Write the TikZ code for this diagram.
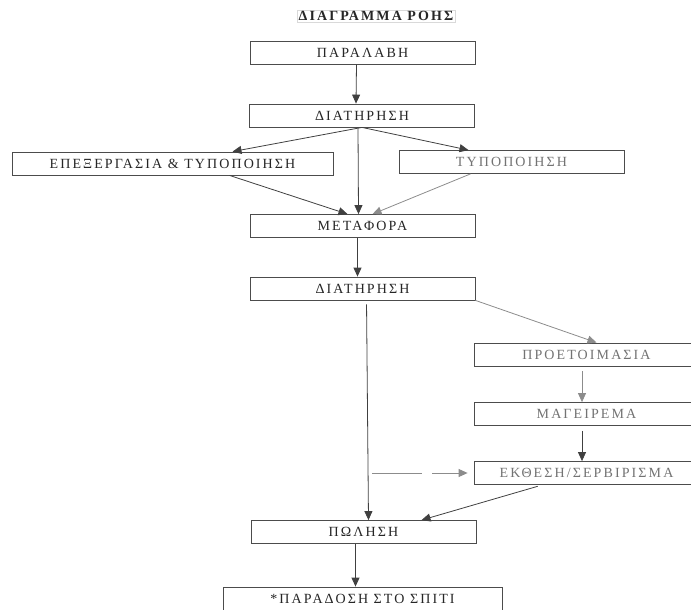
\documentclass[tikz,border=0pt]{standalone}
\usepackage{fontspec}
\setmainfont{Liberation Serif}[LetterSpace=15]
\usetikzlibrary{arrows.meta, positioning}

\begin{document}
\begin{tikzpicture}[x=1pt,y=-1pt,
    kouti/.style={rectangle,draw=black!70,line width=0.8pt,fill=white,minimum width=225pt,minimum height=23pt,inner sep=0pt,font=\fontsize{14}{16}\selectfont,text=black!85},
    kouti2/.style={kouti,text=black!55},
    velos/.style={-{Triangle[length=9pt,width=8pt]},line width=0.8pt,draw=black!75},
    velos2/.style={velos,draw=black!45}]
    \clip (0,0) rectangle (691,610);
    % Τίτλος
    \node[font=\bfseries\fontsize{14}{16}\selectfont,text=black!85,draw=black!15,inner sep=1.5pt] (titlos) at (376,16) {ΔΙΑΓΡΑΜΜΑ ΡΟΗΣ};

    % Κεντρική στήλη
    \node[kouti] (paralavi) at (362.5,52.5) {ΠΑΡΑΛΑΒΗ};
    \node[kouti] (diat1) at (362,115.5) {ΔΙΑΤΗΡΗΣΗ};
    \node[kouti,minimum width=321pt] (epex) at (172.5,163.5) {ΕΠΕΞΕΡΓΑΣΙΑ \& ΤΥΠΟΠΟΙΗΣΗ};
    \node[kouti2] (typo) at (511.5,162) {ΤΥΠΟΠΟΙΗΣΗ};
    \node[kouti] (metafora) at (362.5,226) {ΜΕΤΑΦΟΡΑ};
    \node[kouti] (diat2) at (362.5,288.5) {ΔΙΑΤΗΡΗΣΗ};

    % Δεξιά στήλη
    \node[kouti2] (proet) at (586.5,354.5) {ΠΡΟΕΤΟΙΜΑΣΙΑ};
    \node[kouti2] (mag) at (586.5,414) {ΜΑΓΕΙΡΕΜΑ};
    \node[kouti2] (ekth) at (586.5,473) {ΕΚΘΕΣΗ/ΣΕΡΒΙΡΙΣΜΑ};

    % Πώληση
    \node[kouti] (polisi) at (363.5,532) {ΠΩΛΗΣΗ};
    \node[kouti,minimum width=279pt] (paradosi) at (362.5,598.5) {*ΠΑΡΑΔΟΣΗ ΣΤΟ ΣΠΙΤΙ};

    % Βέλη
    \draw[velos] ([xshift=-6pt]paralavi.south) -- ([xshift=-6pt]diat1.north);
    \draw[velos] (diat1.south) -- ([xshift=60pt]epex.north);
    \draw[velos] (diat1.south) -- ([xshift=-43pt]typo.north);
    \draw[velos] ([xshift=-4pt]diat1.south) -- ([xshift=-4pt]metafora.north);
    \draw[velos] ([xshift=57pt]epex.south) -- ([xshift=-15pt]metafora.north);
    \draw[velos2] ([xshift=-41pt]typo.south) -- ([xshift=10pt]metafora.north);
    \draw[velos] ([xshift=-5pt]metafora.south) -- ([xshift=-5pt]diat2.north);
    \draw[velos2] (diat2.south east) -- ([xshift=10pt]proet.north);
    \draw[velos,shorten <=4pt] ([xshift=4pt]diat2.south) -- ([xshift=5pt]polisi.north);
    \draw[velos2,shorten <=5pt] ([xshift=-4.5pt]proet.south) -- ([xshift=-4.5pt]mag.north);
    \draw[velos,shorten <=5pt] ([xshift=-4.5pt]mag.south) -- ([xshift=-4.5pt]ekth.north);
    \coordinate (dash) at (372,473);
    \draw[velos2,dash pattern=on 50pt off 10pt,shorten >=6pt] (dash) -- (ekth.west);
    \draw[velos,shorten <=5pt] ([xshift=-44pt]ekth.south) -- ([xshift=58pt]polisi.north);
    \draw[velos] ([xshift=-8pt]polisi.south) -- ([xshift=-7pt]paradosi.north);
\end{tikzpicture}
\end{document}
